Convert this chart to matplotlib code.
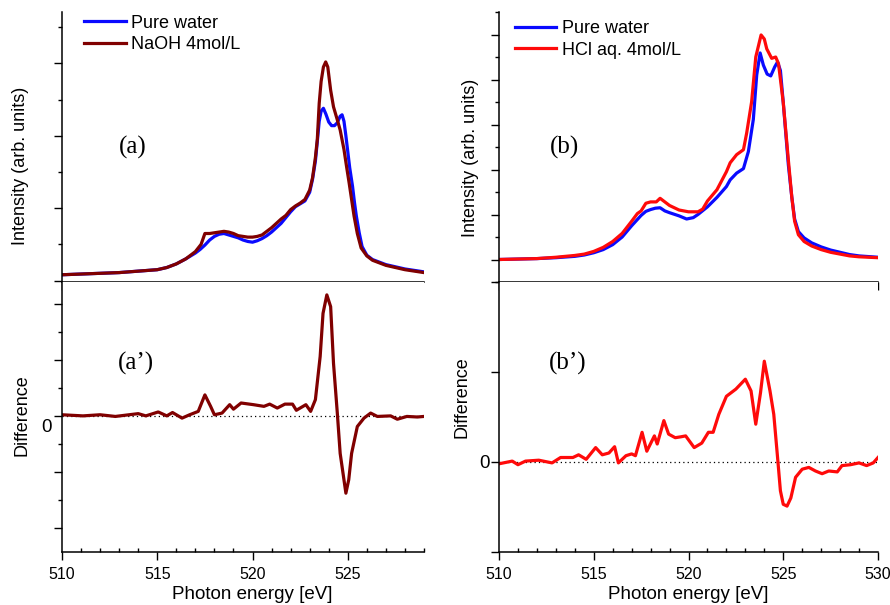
import numpy as np
import matplotlib
matplotlib.use("Agg")
import matplotlib.pyplot as plt
from matplotlib.ticker import MultipleLocator, FixedLocator

# ---- (a) pure water vs NaOH ----
ea_water = [510, 511, 512, 513, 514, 515, 515.5, 516, 516.5, 517, 517.25, 517.5, 517.75, 518,
            518.25, 518.5, 518.75, 519, 519.25, 519.5, 519.75, 520, 520.25, 520.5, 520.75, 521,
            521.25, 521.5, 521.75, 522, 522.25, 522.5, 522.75, 523.0, 523.15, 523.3, 523.4, 523.5,
            523.6, 523.72, 523.85, 524.0, 524.15, 524.3, 524.45, 524.6, 524.7, 524.8, 524.9, 525.0,
            525.1, 525.25, 525.35, 525.45, 525.6, 525.75, 526.0, 526.3, 526.7, 527, 527.5, 528,
            528.5, 529]
ia_water = [0.08, 0.09, 0.10, 0.11, 0.13, 0.15, 0.18, 0.23, 0.30, 0.38, 0.43, 0.49, 0.56, 0.61,
            0.64, 0.65, 0.63, 0.61, 0.59, 0.56, 0.54, 0.53, 0.55, 0.58, 0.62, 0.67,
            0.73, 0.79, 0.87, 0.95, 1.02, 1.06, 1.10, 1.22, 1.40, 1.65, 1.92, 2.20,
            2.34, 2.38, 2.30, 2.19, 2.14, 2.14, 2.18, 2.27, 2.29, 2.20, 2.00, 1.78,
            1.56, 1.30, 1.08, 0.89, 0.66, 0.47, 0.35, 0.29, 0.25, 0.22, 0.19, 0.16,
            0.14, 0.12]

ea_naoh = [510, 511, 512, 513, 514, 515, 515.5, 516, 516.5, 517, 517.3, 517.5, 517.75, 518,
           518.25, 518.5, 518.75, 519, 519.25, 519.5, 519.75, 520, 520.25, 520.5, 520.75, 521,
           521.25, 521.5, 521.75, 522, 522.25, 522.5, 522.75, 523.0, 523.15, 523.3, 523.4, 523.5,
           523.6, 523.72, 523.84, 523.95, 524.1, 524.25, 524.45, 524.6, 524.8, 524.95, 525.07,
           525.2, 525.33, 525.5, 525.7, 526.0, 526.3, 526.7, 527, 527.5, 528, 528.5, 529]
ia_naoh = [0.08, 0.09, 0.10, 0.11, 0.13, 0.15, 0.18, 0.23, 0.30, 0.40, 0.50, 0.65, 0.65, 0.66,
           0.67, 0.68, 0.67, 0.65, 0.62, 0.61, 0.60, 0.60, 0.61, 0.63, 0.68, 0.73,
           0.79, 0.85, 0.90, 0.98, 1.03, 1.07, 1.12, 1.25, 1.42, 1.70, 1.95, 2.45,
           2.75, 2.95, 3.02, 2.95, 2.63, 2.40, 2.22, 2.08, 1.81, 1.55, 1.35,
           1.12, 0.89, 0.65, 0.45, 0.34, 0.28, 0.24, 0.21, 0.18, 0.15, 0.13, 0.11]

ea_diff = [510, 511.1, 512, 512.8, 514, 514.4, 515.05, 515.5, 515.8, 516.3, 516.7, 517.15, 517.5,
           517.8, 518.0, 518.4, 518.8, 519.0, 519.4, 520.05, 520.6, 520.9, 521.3, 521.7, 522.1,
           522.3, 522.8, 523.05, 523.3, 523.55, 523.7, 523.9, 524.1, 524.25, 524.45, 524.6,
           524.9, 525.05, 525.2, 525.5, 525.85, 526.2, 526.55, 527.25, 527.6, 528.1, 528.65, 529]
da_diff = [0.02, 0.0, 0.02, -0.01, 0.04, 0.0, 0.07, 0.0, 0.06, -0.04, 0.02, 0.08, 0.375,
           0.17, 0.02, 0.05, 0.20, 0.12, 0.23, 0.20, 0.17, 0.21, 0.14, 0.21, 0.21,
           0.10, 0.20, 0.08, 0.29, 1.06, 1.83, 2.16, 1.95, 0.94, 0.05, -0.67,
           -1.38, -1.14, -0.67, -0.19, -0.04, 0.05, -0.01, 0.0, -0.06, -0.01, -0.02, -0.01]

# ---- (b) pure water vs HCl ----
eb_water = [510, 511, 512, 513, 514, 514.5, 515, 515.5, 516, 516.5, 517, 517.5, 517.75, 518,
            518.25, 518.5, 518.75, 519, 519.5, 519.9, 520.25, 520.5, 521, 521.5, 522, 522.2,
            522.54, 522.9, 523.16, 523.42, 523.6, 523.78, 523.95, 524.15, 524.34, 524.55, 524.7,
            524.85, 525.0, 525.27, 525.45, 525.6, 525.8, 526.1, 526.5, 527, 527.5, 528, 528.5,
            529, 530]
ib_water = [0.00, 0.01, 0.02, 0.04, 0.07, 0.10, 0.15, 0.22, 0.33, 0.50, 0.75, 0.98, 1.07, 1.11,
            1.14, 1.15, 1.08, 1.04, 0.97, 0.90, 0.93, 1.00, 1.17, 1.38, 1.62, 1.77,
            1.92, 2.02, 2.40, 3.11, 4.10, 4.59, 4.32, 4.12, 4.08, 4.28, 4.39,
            4.20, 3.49, 2.10, 1.39, 0.90, 0.62, 0.48, 0.37, 0.28, 0.21, 0.16, 0.11,
            0.08, 0.05]

eb_hcl = [510, 511, 512, 513, 514, 514.5, 515, 515.5, 516, 516.5, 517, 517.3, 517.5, 517.75,
          518, 518.3, 518.5, 518.75, 519, 519.5, 520, 520.5, 520.75, 521, 521.5, 522, 522.2,
          522.54, 522.9, 523.07, 523.33, 523.55, 523.83, 524.0, 524.13, 524.39, 524.6, 524.75,
          525.0, 525.27, 525.45, 525.6, 525.8, 526.1, 526.5, 527, 527.5, 528, 528.5, 529, 530]
ib_hcl = [0.00, 0.01, 0.02, 0.05, 0.09, 0.12, 0.18, 0.27, 0.40, 0.58, 0.85, 1.02, 1.08, 1.25,
          1.28, 1.28, 1.36, 1.28, 1.20, 1.10, 1.06, 1.06, 1.12, 1.30, 1.55, 1.95, 2.15,
          2.33, 2.44, 2.81, 3.50, 4.50, 4.99, 4.90, 4.68, 4.47, 4.50, 4.35,
          3.49, 2.21, 1.39, 0.85, 0.55, 0.40, 0.30, 0.22, 0.16, 0.12, 0.08, 0.06, 0.04]

eb_diff = [510, 510.7, 511, 511.4, 512.1, 512.8, 513.25, 513.9, 514.2, 514.6, 515.1, 515.45,
           515.8, 516.1, 516.3, 516.7, 517.0, 517.2, 517.55, 517.8, 518.2, 518.35, 518.7, 518.95,
           519.3, 519.6, 519.85, 520.3, 520.7, 521.05, 521.3, 521.6, 522.0, 522.5, 523.0, 523.3,
           523.55, 523.8, 524.0, 524.3, 524.5, 524.7, 524.85, 525.0, 525.2, 525.4, 525.65, 526.0,
           526.35, 526.7, 527.05, 527.4, 527.85, 528.1, 528.55, 529.0, 529.4, 529.75, 530]
db_diff = [-0.02, 0.01, -0.03, 0.01, 0.02, -0.01, 0.05, 0.05, 0.08, 0.03, 0.16, 0.08,
           0.10, 0.17, -0.01, 0.07, 0.09, 0.07, 0.33, 0.12, 0.29, 0.20, 0.46, 0.31,
           0.27, 0.28, 0.29, 0.16, 0.21, 0.33, 0.33, 0.53, 0.73, 0.81, 0.92, 0.79,
           0.42, 0.77, 1.12, 0.79, 0.53, 0.05, -0.32, -0.47, -0.49, -0.40, -0.17, -0.08,
           -0.06, -0.10, -0.13, -0.10, -0.11, -0.04, -0.03, -0.01, -0.04, -0.01, 0.05]

BLUE = "#0a0aff"
MAROON = "#800000"
RED = "#ff0a0a"
LW = 2.3

plt.rcParams["font.family"] = ["Liberation Sans", "DejaVu Sans"]
fig = plt.figure(figsize=(8.9, 6.05), dpi=100)
W, H = 890.0, 605.0


def make_ax(x0, x1, y0, y1):
    return fig.add_axes([x0 / W, 1 - y1 / H, (x1 - x0) / W, (y1 - y0) / H])


ax_a = make_ax(62, 424, 12, 282)
ax_a2 = make_ax(62, 424, 282, 552)
ax_b = make_ax(499, 878, 12, 282)
ax_b2 = make_ax(499, 878, 282, 552)

for ax in (ax_a, ax_a2, ax_b, ax_b2):
    for s in ("top", "right"):
        ax.spines[s].set_visible(False)
    for s in ("left", "bottom"):
        ax.spines[s].set_linewidth(1.1)
    ax.tick_params(which="major", direction="out", length=5.5, width=1.0)
    ax.tick_params(which="minor", direction="out", length=3, width=1.0)

# top panels
ax_a.plot(ea_water, ia_water, color=BLUE, lw=LW, label="Pure water")
ax_a.plot(ea_naoh, ia_naoh, color=MAROON, lw=LW, label="NaOH 4mol/L")
ax_a.set_xlim(510, 529)
ax_a.set_ylim(-0.02, 3.71)
ax_a.yaxis.set_major_locator(MultipleLocator(1))
ax_a.yaxis.set_minor_locator(MultipleLocator(0.5))

ax_b.plot(eb_water, ib_water, color=BLUE, lw=LW, label="Pure water")
ax_b.plot(eb_hcl, ib_hcl, color=RED, lw=LW, label="HCl aq. 4mol/L")
ax_b.set_xlim(510, 530)
ax_b.set_ylim(-0.5, 5.5)
ax_b.yaxis.set_major_locator(MultipleLocator(1))
ax_b.yaxis.set_minor_locator(MultipleLocator(0.5))

for ax in (ax_a, ax_b):
    ax.xaxis.set_major_locator(MultipleLocator(5))
    ax.xaxis.set_minor_locator(MultipleLocator(2.5))
    ax.tick_params(labelbottom=False, labelleft=False)
    ax.text(-0.116 if ax is ax_a else -0.074, 0.43 if ax is ax_a else 0.46,
            "Intensity (arb. units)", transform=ax.transAxes,
            rotation=90, ha="center", va="center", fontsize=13)

ax_a.legend(loc="upper left", bbox_to_anchor=(0.061, 0.99), frameon=False, fontsize=13,
            handlelength=2.3, handletextpad=0.3, labelspacing=0.25, borderpad=0, borderaxespad=0)
ax_b.legend(loc="upper left", bbox_to_anchor=(0.042, 0.97), frameon=False, fontsize=13,
            handlelength=2.3, handletextpad=0.3, labelspacing=0.25, borderpad=0, borderaxespad=0)

# difference panels
ax_a2.plot(ea_diff, da_diff, color=MAROON, lw=LW)
ax_a2.set_xlim(510, 529)
ax_a2.set_ylim(-2.43, 2.39)
ax_a2.yaxis.set_major_locator(MultipleLocator(1))
ax_a2.yaxis.set_minor_locator(MultipleLocator(0.5))
ax_a2.tick_params(labelleft=False)
ax_a2.text(-0.028, -0.2, "0", transform=ax_a2.get_yaxis_transform(), ha="right", va="center",
           fontsize=13.5)

ax_b2.plot(eb_diff, db_diff, color=RED, lw=LW)
ax_b2.set_xlim(510, 530)
ax_b2.set_ylim(-1, 2)
ax_b2.yaxis.set_major_locator(FixedLocator([-1, 0, 1, 2]))
ax_b2.set_yticklabels(["", "0", "", ""], fontsize=13.5)
ax_b2.tick_params(axis="y", pad=1)

for ax, lx, ly in ((ax_a2, -0.11, 0.507), (ax_b2, -0.098, 0.574)):
    ax.axhline(0, color="black", lw=0.9, ls=(0, (1, 2.5)), zorder=0)
    ax.xaxis.set_major_locator(MultipleLocator(5))
    ax.xaxis.set_minor_locator(MultipleLocator(1))
    ax.tick_params(axis="x", which="major", direction="out", length=6, labelsize=11.5, pad=5)
    ax.tick_params(axis="x", which="minor", direction="in", length=3)
    ax.text(lx, ly, "Difference", transform=ax.transAxes, rotation=90, ha="center",
            va="center", fontsize=13)
    ax.text(0.5 + (0.025 if ax is ax_a2 else 0), -0.127, "Photon energy [eV]",
            transform=ax.transAxes, ha="center", va="top", fontsize=13.5)

# panel labels
for ax, x, y, s in ((ax_a, 0.196, 0.5, "(a)"), (ax_b, 0.174, 0.5, "(b)"),
                    (ax_a2, 0.204, 0.70, "(a\u2019)"), (ax_b2, 0.182, 0.70, "(b\u2019)")):
    ax.text(x, y, s, transform=ax.transAxes, ha="center", va="center", fontsize=18,
            family="Liberation Serif")

fig.savefig("out.png", dpi=100)
